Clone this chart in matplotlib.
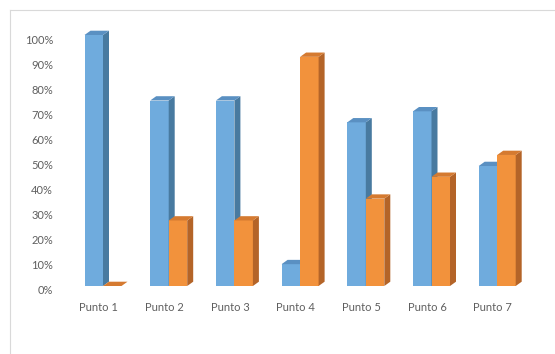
import numpy as np
import matplotlib
matplotlib.use("Agg")
import matplotlib.pyplot as plt
import matplotlib.transforms as mtransforms
from matplotlib.patches import Polygon
from matplotlib.lines import Line2D

categories = ["Punto 1", "Punto 2", "Punto 3", "Punto 4", "Punto 5", "Punto 6", "Punto 7"]
serie_azul = [1.0, 0.739, 0.739, 0.087, 0.652, 0.696, 0.478]
serie_naranja = [0.0, 0.261, 0.261, 0.913, 0.348, 0.435, 0.522]
yticks = np.arange(0, 1.01, 0.1)

plt.rcParams['font.family'] = ['Lato', 'DejaVu Sans']

W, H = 555, 354
fig = plt.figure(figsize=(W / 100, H / 100), dpi=100)

# axes in pixel coords: x 60..545, y 20..300 (from top)
ax_l, ax_r, ax_t, ax_b = 60, 545, 20, 300
ax = fig.add_axes([ax_l / W, 1 - ax_b / H, (ax_r - ax_l) / W, (ax_b - ax_t) / H])

px_x = 65.7   # px per category
px_y = 251.0  # px per 100%
x0 = 98.5     # pixel x of category 0
y0 = 286.0    # pixel y of 0%
ax.set_xlim((ax_l - x0) / px_x, (ax_r - x0) / px_x)
ax.set_ylim(-(ax_b - y0) / px_y, (y0 - ax_t) / px_y)

bw = 18.5 / px_x
dx = 6.0 / px_x
dy = 4.3 / px_y

blue = ("#6FABDD", "#487AA0", "#5A90C2")
orange = ("#F2923C", "#B46428", "#D57A30")


def bar3d(x, h, cols):
    front, side, top = cols
    if h > 0:
        ax.add_patch(Polygon([(x, 0), (x + bw, 0), (x + bw, h), (x, h)], closed=True,
                             facecolor=front, edgecolor="none"))
        ax.add_patch(Polygon([(x + bw, 0), (x + bw + dx, dy), (x + bw + dx, h + dy), (x + bw, h)],
                             closed=True, facecolor=side, edgecolor="none"))
    ax.add_patch(Polygon([(x, h), (x + bw, h), (x + bw + dx, h + dy), (x + dx, h + dy)],
                         closed=True, facecolor=top, edgecolor="none"))


for i in range(len(categories)):
    xl = i - 14.0 / px_x
    bar3d(xl, serie_azul[i], blue)
    bar3d(xl + bw, serie_naranja[i], orange)

for s in ax.spines.values():
    s.set_visible(False)
ax.tick_params(length=0)
ax.set_yticks(yticks)
ax.set_yticklabels([f"{int(round(v * 100))}%" for v in yticks], color="#5F5F5F", fontsize=8)
ax.tick_params(axis="y", pad=5)
off = mtransforms.ScaledTranslation(0, -4 / 100, fig.dpi_scale_trans)
for lab in ax.get_yticklabels():
    lab.set_transform(lab.get_transform() + off)
ax.set_xticks(range(len(categories)))
ax.set_xticklabels(categories, color="#5F5F5F", fontsize=8)
ax.tick_params(axis="x", pad=1.5)

# chart border (top and left visible)
fig.add_artist(Line2D([10 / W, 1], [1 - 10 / H, 1 - 10 / H], color="#D9D9D9", lw=0.8,
                      transform=fig.transFigure))
fig.add_artist(Line2D([10 / W, 10 / W], [0, 1 - 10 / H], color="#D9D9D9", lw=0.8,
                      transform=fig.transFigure))

fig.savefig("out.png", dpi=100)
